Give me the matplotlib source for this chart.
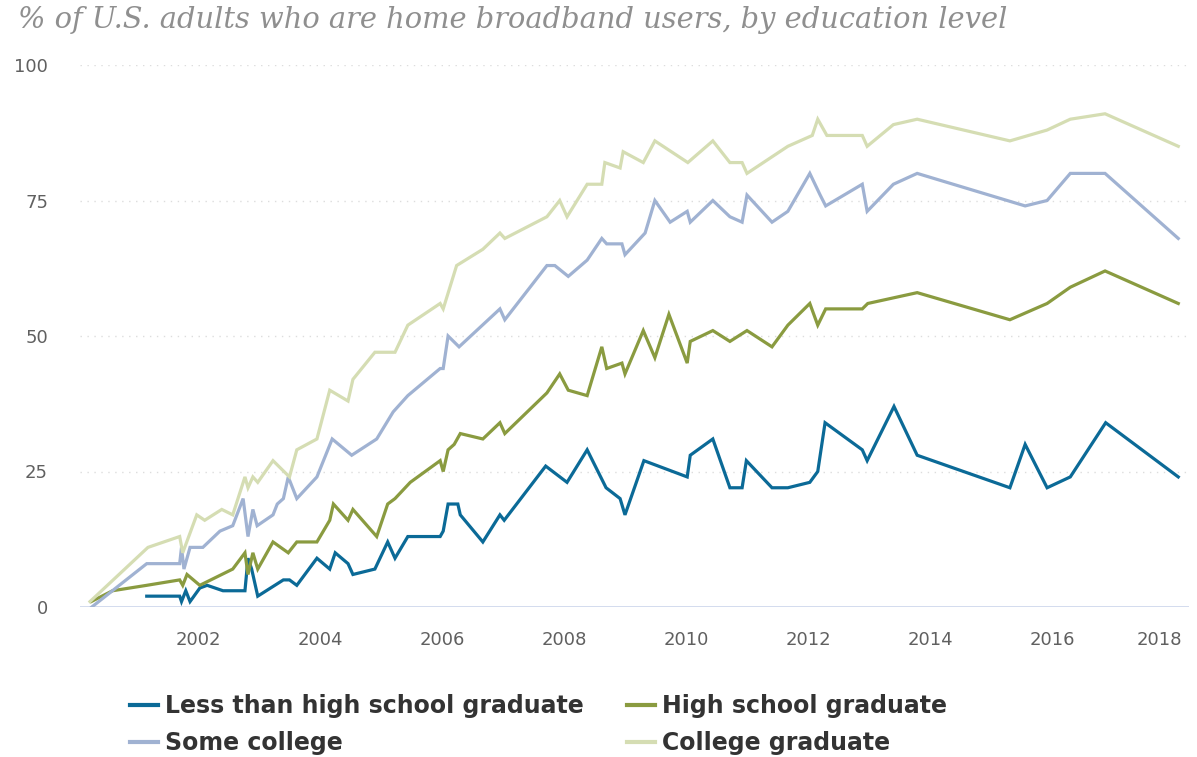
import matplotlib
matplotlib.use("Agg")
import matplotlib.pyplot as plt
import matplotlib.transforms as mtransforms

# survey dates (decimal years) and % home broadband
less_hs_years = [2001.16, 2001.7, 2001.73, 2001.8, 2001.87, 2002.03, 2002.15, 2002.41, 2002.77, 2002.82,
                 2002.88, 2002.98, 2003.4, 2003.5, 2003.62, 2003.95, 2004.16, 2004.25, 2004.46, 2004.54,
                 2004.9, 2005.11, 2005.23, 2005.44, 2005.97, 2006.02, 2006.1, 2006.26, 2006.3, 2006.67,
                 2006.95, 2007.02, 2007.7, 2008.05, 2008.38, 2008.69, 2008.92, 2009.0, 2009.31, 2010.02,
                 2010.07, 2010.44, 2010.72, 2010.92, 2010.99, 2011.41, 2011.67, 2012.03, 2012.16, 2012.28,
                 2012.89, 2012.97, 2013.41, 2013.79, 2015.31, 2015.56, 2015.92, 2016.3, 2016.88, 2018.07]
less_hs_pct = [2, 2, 1, 3, 1, 3.5, 4, 3, 3, 9,
               7, 2, 5, 5, 4, 9, 7, 10, 8, 6,
               7, 12, 9, 13, 13, 14, 19, 19, 17, 12,
               17, 16, 26, 23, 29, 22, 20, 17, 27, 24,
               28, 31, 22, 22, 27, 22, 22, 23, 25, 34,
               29, 27, 37, 28, 22, 30, 22, 24, 34, 24]

hs_years = [2000.25, 2000.6, 2001.16, 2001.7, 2001.75, 2001.82, 2002.03, 2002.57, 2002.77, 2002.82,
            2002.9, 2002.98, 2003.23, 2003.48, 2003.62, 2003.95, 2004.16, 2004.22, 2004.46, 2004.54,
            2004.93, 2005.11, 2005.23, 2005.48, 2005.97, 2006.02, 2006.1, 2006.2, 2006.3, 2006.67,
            2006.95, 2007.03, 2007.72, 2007.93, 2008.07, 2008.38, 2008.62, 2008.7, 2008.95, 2009.0,
            2009.3, 2009.49, 2009.72, 2010.02, 2010.07, 2010.44, 2010.72, 2011.0, 2011.41, 2011.67,
            2012.03, 2012.16, 2012.29, 2012.89, 2012.98, 2013.79, 2015.31, 2015.92, 2016.3, 2016.87,
            2018.07]
hs_pct = [1, 3, 4, 5, 4, 6, 4, 7, 10, 6,
          10, 7, 12, 10, 12, 12, 16, 19, 16, 18,
          13, 19, 20, 23, 27, 25, 29, 30, 32, 31,
          34, 32, 39.5, 43, 40, 39, 48, 44, 45, 43,
          51, 46, 54, 45, 49, 51, 49, 51, 48, 52,
          56, 52, 55, 55, 56, 58, 53, 56, 59, 62,
          56]

some_col_years = [2000.26, 2001.16, 2001.7, 2001.73, 2001.77, 2001.87, 2002.08, 2002.36, 2002.57, 2002.74,
                  2002.82, 2002.9, 2002.97, 2003.23, 2003.3, 2003.4, 2003.48, 2003.62, 2003.95, 2004.2,
                  2004.52, 2004.93, 2005.2, 2005.44, 2005.97, 2006.02, 2006.1, 2006.28, 2006.95, 2007.03,
                  2007.72, 2007.85, 2008.07, 2008.38, 2008.62, 2008.7, 2008.95, 2009.0, 2009.33, 2009.49,
                  2009.74, 2010.02, 2010.07, 2010.44, 2010.72, 2010.92, 2011.0, 2011.41, 2011.67, 2012.03,
                  2012.2, 2012.29, 2012.89, 2012.97, 2013.4, 2013.79, 2015.56, 2015.92, 2016.3, 2016.87,
                  2018.07]
some_col_pct = [0, 8, 8, 11, 7, 11, 11, 14, 15, 20,
                13, 18, 15, 17, 19, 20, 24, 20, 24, 31,
                28, 31, 36, 39, 44, 44, 50, 48, 55, 53,
                63, 63, 61, 64, 68, 67, 67, 65, 69, 75,
                71, 73, 71, 75, 72, 71, 76, 71, 73, 80,
                76, 74, 78, 73, 78, 80, 74, 75, 80, 80,
                68]

col_grad_years = [2000.23, 2001.18, 2001.7, 2001.75, 2001.98, 2002.11, 2002.39, 2002.57, 2002.77, 2002.82,
                  2002.9, 2002.98, 2003.23, 2003.5, 2003.62, 2003.95, 2004.16, 2004.46, 2004.54, 2004.9,
                  2005.23, 2005.44, 2005.97, 2006.02, 2006.24, 2006.67, 2006.95, 2007.03, 2007.72, 2007.93,
                  2008.05, 2008.38, 2008.62, 2008.67, 2008.92, 2008.97, 2009.3, 2009.49, 2010.03, 2010.44,
                  2010.72, 2010.92, 2011.0, 2011.67, 2012.07, 2012.16, 2012.31, 2012.89, 2012.97, 2013.4,
                  2013.79, 2015.31, 2015.92, 2016.3, 2016.87, 2018.07]
col_grad_pct = [1, 11, 13, 10, 17, 16, 18, 17, 24, 22,
                24, 23, 27, 24, 29, 31, 40, 38, 42, 47,
                47, 52, 56, 55, 63, 66, 69, 68, 72, 75,
                72, 78, 78, 82, 81, 84, 82, 86, 82, 86,
                82, 82, 80, 85, 87, 90, 87, 87, 85, 89,
                90, 86, 88, 90, 91, 85]

labels = ["Less than high school graduate", "High school graduate", "Some college", "College graduate"]
colors = ["#0b6a97", "#8a9b40", "#a0b2d2", "#d5ddb3"]
y_ticks = [0, 25, 50, 75, 100]
x_ticks = [2002, 2004, 2006, 2008, 2010, 2012, 2014, 2016, 2018]
title = "% of U.S. adults who are home broadband users, by education level"

W, H = 1197, 757
fig = plt.figure(figsize=(W / 100, H / 100), dpi=100)
ax = fig.add_axes([80 / W, 1 - 607 / H, (1189 - 80) / W, (607 - 65) / H])

series = [(less_hs_years, less_hs_pct), (hs_years, hs_pct),
          (some_col_years, some_col_pct), (col_grad_years, col_grad_pct)]
lines = []
for (xs, ys), lab, col in zip(series, labels, colors):
    ln, = ax.plot(xs, ys, color=col, lw=2.3, label=lab, solid_joinstyle="miter", zorder=3)
    lines.append(ln)

ax.set_xlim(2000.066, 2018.246)
ax.set_ylim(0, 100)
for s in ax.spines.values():
    s.set_visible(False)
ax.axhline(0, color="#ccd6eb", lw=1.2, zorder=1)
for v in y_ticks[1:]:
    ax.axhline(v, color="#dddddd", lw=1.0, ls=(0, (1, 4)), zorder=1)

ax.set_yticks(y_ticks)
ax.set_xticks(x_ticks)
ax.tick_params(axis="both", length=0, labelsize=13, labelcolor="#606060")
ax.tick_params(axis="y", pad=23)
ax.tick_params(axis="x", pad=17.5)
for lbl in ax.get_yticklabels():
    lbl.set_horizontalalignment("right")
# last year label is pushed inside the plot edge like in the original
last = ax.get_xticklabels()[-1]
last.set_transform(last.get_transform() + mtransforms.ScaledTranslation(-0.15, 0, fig.dpi_scale_trans))

fig.text(18 / W, 1 - 20 / H, title, fontsize=20.8, family="DejaVu Serif", style="italic",
         color="#8f8f8f", ha="left", va="center")

# column-major fill: first column holds items 1 and 3 of the original legend
order = [0, 2, 1, 3]
leg = fig.legend(handles=[lines[i] for i in order], labels=[labels[i] for i in order],
                 ncol=2, loc="upper left",
                 bbox_to_anchor=(130 / W, 1 - 694 / H), frameon=False,
                 prop={"family": "DejaVu Sans", "weight": "bold", "size": 17},
                 handlelength=1.2, handletextpad=0.3, columnspacing=1.8, labelspacing=0.55,
                 borderaxespad=0, borderpad=0)
for t in leg.get_texts():
    t.set_color("#333333")
for h in leg.legend_handles:
    h.set_linewidth(3)

fig.savefig("out.png", dpi=100)
